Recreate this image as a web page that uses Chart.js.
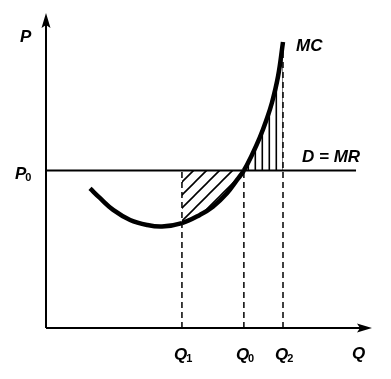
<!DOCTYPE html>
<html><head><meta charset="utf-8">
<script src="https://cdn.jsdelivr.net/npm/chart.js@4"></script>
<style>html,body{margin:0;padding:0;background:#fff}canvas{display:block}</style>
</head><body>
<canvas id="c" width="391" height="379"></canvas>
<script>
// ---- data ----
const qTickNames = ['Q', 'Q', 'Q'];
const qTickSubs = ['1', '0', '2'];
const qTicks = [41.7, 60.7, 72.7];          // Q1, Q0, Q2
const priceP0 = 50;                          // P0
const demandRange = [0, 95.1];               // extent of D = MR line
const mcQ = [13.5, 16.6, 20.6, 25.8, 31.0, 35.6, 41.7, 47.2, 51.2, 55.5, 58.6, 60.7, 63.2, 65.6, 67.5, 69.3, 71.2, 72.7];
const mcP = [44.3, 41.2, 37.5, 34.3, 32.7, 32.2, 33.3, 35.9, 38.5, 42.8, 47.0, 50.0, 55.0, 60.5, 65.7, 71.5, 80.0, 90.8];
const axisLabels = { x: 'Q', y: 'P', mc: 'MC', d: 'D = MR', p0: 'P', p0sub: '0' };

// ---- hatch patterns ----
function makePattern(kind) {
  const c = document.createElement('canvas');
  const ctx = c.getContext('2d');
  if (kind === 'diag') {
    c.width = 13; c.height = 13;
    ctx.strokeStyle = '#000'; ctx.lineWidth = 1.6;
    ctx.beginPath();
    ctx.moveTo(-1, 14); ctx.lineTo(14, -1);
    ctx.moveTo(-14, 14); ctx.lineTo(1, -1);
    ctx.moveTo(12, 14); ctx.lineTo(27, -1);
    ctx.stroke();
  } else {
    c.width = 7; c.height = 7;
    ctx.fillStyle = '#000';
    ctx.fillRect(2.5, 0, 1.6, 7);
  }
  return ctx.createPattern(c, 'repeat');
}
const diagPat = makePattern('diag');
const vertPat = makePattern('vert');

const mcData = mcQ.map((q, i) => ({ x: q, y: mcP[i] }));
const eps = 0.01;

const dashed = (q, top) => ({
  data: [{ x: q, y: 0 }, { x: q, y: top }],
  borderColor: '#000', borderWidth: 1.5, borderDash: [6, 4],
  pointRadius: 0, showLine: true, fill: false, clip: false
});

const axesPlugin = {
  id: 'axesAndLabels',
  beforeDatasetsDraw(chart) {
    const { ctx, scales: { x, y } } = chart;
    const ox = x.getPixelForValue(0), oy = y.getPixelForValue(0);
    const xt = x.getPixelForValue(100), yt = y.getPixelForValue(100);
    ctx.save();
    ctx.strokeStyle = '#000'; ctx.fillStyle = '#000'; ctx.lineWidth = 2;
    ctx.beginPath();
    ctx.moveTo(ox, oy); ctx.lineTo(ox, yt + 10);
    ctx.moveTo(ox, oy); ctx.lineTo(xt - 10, oy);
    ctx.stroke();
    ctx.beginPath();
    ctx.moveTo(ox, yt); ctx.lineTo(ox - 4.5, yt + 15); ctx.lineTo(ox, yt + 12); ctx.lineTo(ox + 4.5, yt + 15); ctx.closePath();
    ctx.fill();
    ctx.beginPath();
    ctx.moveTo(xt, oy); ctx.lineTo(xt - 15, oy - 4.5); ctx.lineTo(xt - 12, oy); ctx.lineTo(xt - 15, oy + 4.5); ctx.closePath();
    ctx.fill();
    ctx.restore();
  },
  afterDatasetsDraw(chart) {
    const { ctx, scales: { x, y } } = chart;
    const ox = x.getPixelForValue(0), oy = y.getPixelForValue(0);
    const big = 'italic bold 17px "Liberation Sans", Arial, sans-serif';
    const small = 'bold 11px "Liberation Sans", Arial, sans-serif';
    ctx.save();
    ctx.fillStyle = '#000';
    ctx.textBaseline = 'alphabetic';
    function sub(main, s, px, py) {
      ctx.font = big; ctx.textAlign = 'left';
      ctx.fillText(main, px, py);
      const w = ctx.measureText(main).width;
      ctx.font = small;
      ctx.fillText(s, px + w - 1, py + 2);
    }
    qTicks.forEach((q, i) => {
      const px = x.getPixelForValue(q);
      sub(qTickNames[i], qTickSubs[i], px - 8, oy + 32);
    });
    const p0y = y.getPixelForValue(priceP0);
    sub(axisLabels.p0, axisLabels.p0sub, ox - 31, p0y + 8);
    ctx.font = big; ctx.textAlign = 'left';
    ctx.fillText(axisLabels.y, ox - 26, y.getPixelForValue(100) + 29);
    ctx.fillText(axisLabels.x, x.getPixelForValue(100) - 20, oy + 31);
    const topMc = mcData[mcData.length - 1];
    ctx.fillText(axisLabels.mc, x.getPixelForValue(topMc.x) + 13, y.getPixelForValue(topMc.y) + 9);
    ctx.fillText(axisLabels.d, x.getPixelForValue(demandRange[1]) - 54, p0y - 9);
    ctx.restore();
  }
};

new Chart(document.getElementById('c'), {
  type: 'scatter',
  data: {
    datasets: [
      {
        data: demandRange.map(q => ({ x: q, y: priceP0 })),
        borderColor: '#000', borderWidth: 2, pointRadius: 0, showLine: true, fill: false, clip: false
      },
      dashed(qTicks[0], priceP0),
      dashed(qTicks[1], priceP0),
      dashed(qTicks[2], mcP[mcP.length - 1]),
      {
        data: mcData,
        borderColor: '#000', borderWidth: 4.5, pointRadius: 0, showLine: true,
        tension: 0.4,
        fill: { value: priceP0 },
        backgroundColor: 'transparent',
        segment: {
          backgroundColor: c => {
            const a = c.p0.parsed.x, b = c.p1.parsed.x;
            if (a >= qTicks[0] - eps && b <= qTicks[1] + eps) return diagPat;
            if (a >= qTicks[1] - eps && b <= qTicks[2] + eps) return vertPat;
            return 'transparent';
          }
        },
        clip: false
      }
    ]
  },
  options: {
    responsive: false,
    animation: false,
    devicePixelRatio: 1,
    layout: { padding: { left: 46, right: 19, top: 13, bottom: 51 } },
    plugins: { legend: { display: false }, tooltip: { enabled: false } },
    scales: {
      x: { type: 'linear', min: 0, max: 100, display: false },
      y: { type: 'linear', min: 0, max: 100, display: false }
    }
  },
  plugins: [axesPlugin]
});
</script>
</body></html>
